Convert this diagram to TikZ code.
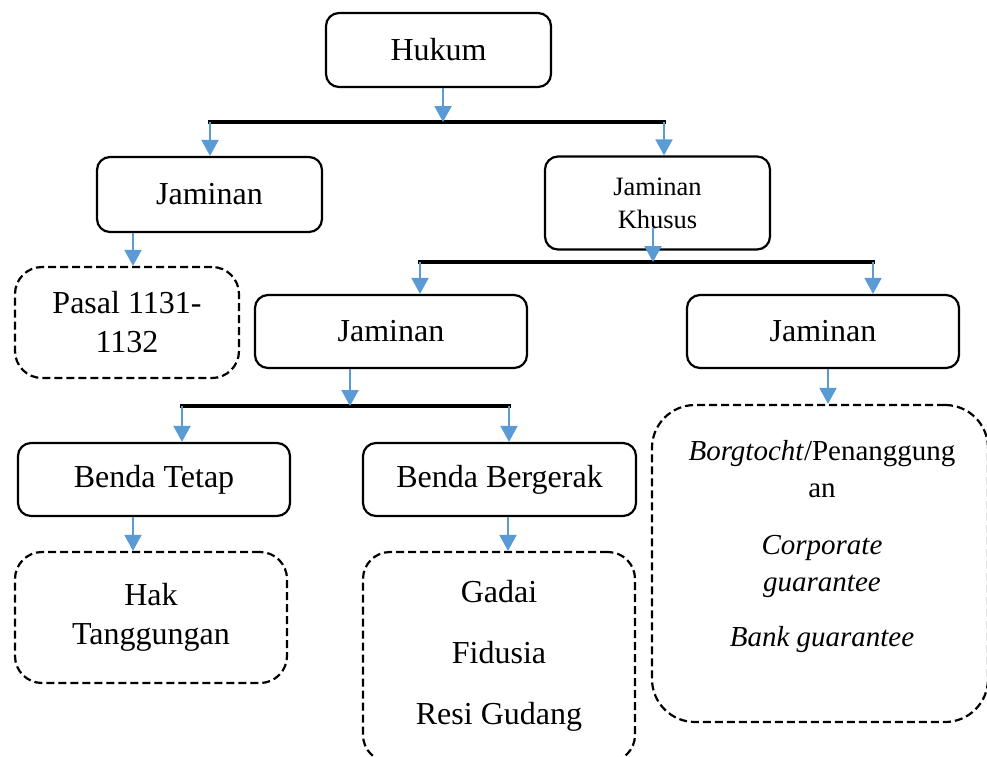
\documentclass[tikz,border=0pt]{standalone}
\usepackage{fontspec}
\setmainfont{Liberation Serif}
\usetikzlibrary{arrows.meta}
\definecolor{linkblue}{HTML}{5B9BD5}
\tikzset{
  solidbox/.style={draw, line width=2.2pt, rounded corners=13pt, align=center, inner sep=0pt},
  dashbox/.style={draw, line width=2.2pt, dash pattern=on 8pt off 4pt, rounded corners=27pt, align=center, inner sep=0pt},
  link/.style={draw=linkblue, line width=2pt, -{Triangle[width=17pt,length=16pt,fill=linkblue]}},
  bar/.style={line width=4pt, line cap=rect},
}
\begin{document}
\begin{tikzpicture}[x=1pt, y=-1pt, font=\fontsize{32}{39}\selectfont]
\useasboundingbox (0,0) rectangle (987,756);
% level 1
\node[solidbox, minimum width=225pt, minimum height=74pt] (hukum) at (438.5,50) {Hukum};
% level 2
\node[solidbox, minimum width=225pt, minimum height=75pt] (jamUmum) at (209.5,194.5) {Jaminan};
\node[solidbox, minimum width=225pt, minimum height=93pt, font=\fontsize{26.5}{33}\selectfont] (jamKhusus) at (657.5,203) {Jaminan\\Khusus};
\node[dashbox, minimum width=224pt, minimum height=111pt] (pasal) at (127,322.5) {Pasal 1131-\\1132};
% level 3
\node[solidbox, minimum width=272pt, minimum height=73pt] (jamBenda) at (391,331.5) {Jaminan};
\node[solidbox, minimum width=272pt, minimum height=73pt] (jamOrang) at (823,331.5) {Jaminan};
% level 4
\node[solidbox, minimum width=272pt, minimum height=73pt] (tetap) at (154,479.5) {Benda Tetap};
\node[solidbox, minimum width=273pt, minimum height=73pt] (gerak) at (499.5,479.5) {Benda Bergerak};
\node[dashbox, minimum width=272pt, minimum height=131pt] (hak) at (151,617.5) {Hak\\Tanggungan};
\node[dashbox, minimum width=272pt, minimum height=210pt] (gadai) at (499,657) {};
\node[align=center] (gadaiText) at (499,656) {Gadai\\[22pt]Fidusia\\[22pt]Resi Gudang};
\node[dashbox, rounded corners=43pt, minimum width=336pt, minimum height=317pt] (garansi) at (820,563.5) {};
\node[align=center, font=\fontsize{29}{37}\selectfont] (garansiText) at (822,547)
  {\textit{Borgtocht}/Penanggung\\an\\[20pt]\textit{Corporate}\\\textit{guarantee}\\[18pt]\textit{Bank guarantee}};
% bars
\coordinate (topMid) at (443,122);
\coordinate (topL) at (210,122);
\coordinate (topR) at (664,122);
\coordinate (midSrc) at (653,228);
\coordinate (midMid) at (653,262);
\coordinate (midL) at (420,262);
\coordinate (midR) at (873,262);
\coordinate (lowMid) at (350,406);
\coordinate (lowL) at (182,406);
\coordinate (lowR) at (509,406);
\coordinate (colA) at (133,0);
\coordinate (colB) at (508,0);
\coordinate (colC) at (828,0);
\draw[bar] (topL) -- (topR);
\draw[bar] (midL) -- (midR);
\draw[bar] (lowL) -- (lowR);
% arrows
\draw[link] (hukum.south -| topMid) -- (topMid);
\draw[link] (topL) -- (topL |- jamUmum.north);
\draw[link] (topR) -- (topR |- jamKhusus.north);
\draw[link] (jamUmum.south -| colA) -- (pasal.north -| colA);
\draw[link] (midSrc) -- (midMid);
\draw[link] (midL) -- (midL |- jamBenda.north);
\draw[link] (midR) -- (midR |- jamOrang.north);
\draw[link] (jamBenda.south -| lowMid) -- (lowMid);
\draw[link] (lowL) -- (lowL |- tetap.north);
\draw[link] (lowR) -- (lowR |- gerak.north);
\draw[link] (tetap.south -| colA) -- (hak.north -| colA);
\draw[link] (gerak.south -| colB) -- (gadai.north -| colB);
\draw[link] (jamOrang.south -| colC) -- (garansi.north -| colC);
\end{tikzpicture}
\end{document}
